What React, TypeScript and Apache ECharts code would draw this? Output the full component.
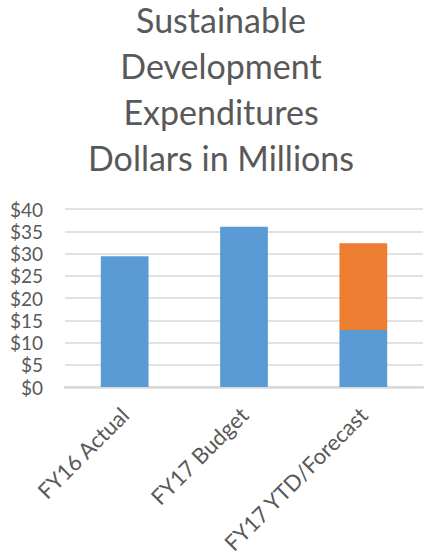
import React, { useEffect, useRef } from "react";
import * as echarts from "echarts";

const categories = ["FY16 Actual", "FY17 Budget", "FY17 YTD/Forecast"];
const actualValues = [29.4, 36.0, 12.8];
const forecastValues: (number | null)[] = [null, null, 19.5];
const yTicks = { min: 0, max: 40, interval: 5 };
const titleLines = ["Sustainable", "Development", "Expenditures", "Dollars in Millions"];

export default function App() {
  const ref = useRef<HTMLDivElement>(null);
  useEffect(() => {
    if (!ref.current) return;
    const chart = echarts.init(ref.current, undefined, { renderer: "svg" });
    const font = "Lato";
    chart.setOption({
      animation: false,
      backgroundColor: "#ffffff",
      graphic: [
        {
          type: "text",
          x: 221,
          y: -4,
          style: {
            text: titleLines.join("\n"),
            textAlign: "center",
            textVerticalAlign: "top",
            fontFamily: font,
            fontSize: 34,
            lineHeight: 46,
            fontWeight: "normal",
            fill: "#595959",
          },
        },
      ],
      grid: { left: 65, right: 1, top: 209, bottom: 167, containLabel: false },
      xAxis: {
        type: "category",
        data: categories,
        axisLine: { show: true, lineStyle: { color: "#d9d9d9", width: 2.5 } },
        axisTick: { show: false },
        axisLabel: {
          rotate: 45,
          margin: 24,
          interval: 0,
          fontFamily: font,
          fontSize: 22,
          color: "#595959",
        },
      },
      yAxis: {
        type: "value",
        min: yTicks.min,
        max: yTicks.max,
        interval: yTicks.interval,
        axisLine: { show: false },
        axisTick: { show: false },
        splitLine: { lineStyle: { color: "#d9d9d9", width: 1.5 } },
        axisLabel: {
          formatter: (v: number) => "$" + v,
          margin: 22,
          fontFamily: font,
          fontSize: 19,
          lineHeight: 19,
          color: "#595959",
        },
      },
      series: [
        {
          type: "bar",
          stack: "total",
          data: actualValues,
          barWidth: "40%",
          itemStyle: { color: "#5B9BD5" },
        },
        {
          type: "bar",
          stack: "total",
          data: forecastValues,
          barWidth: "40%",
          itemStyle: { color: "#ED7D31" },
        },
      ],
    });
    return () => chart.dispose();
  }, []);
  return (
    <div
      ref={ref}
      style={{ position: "fixed", left: 0, top: 0, width: 424, height: 557 }}
    />
  );
}
